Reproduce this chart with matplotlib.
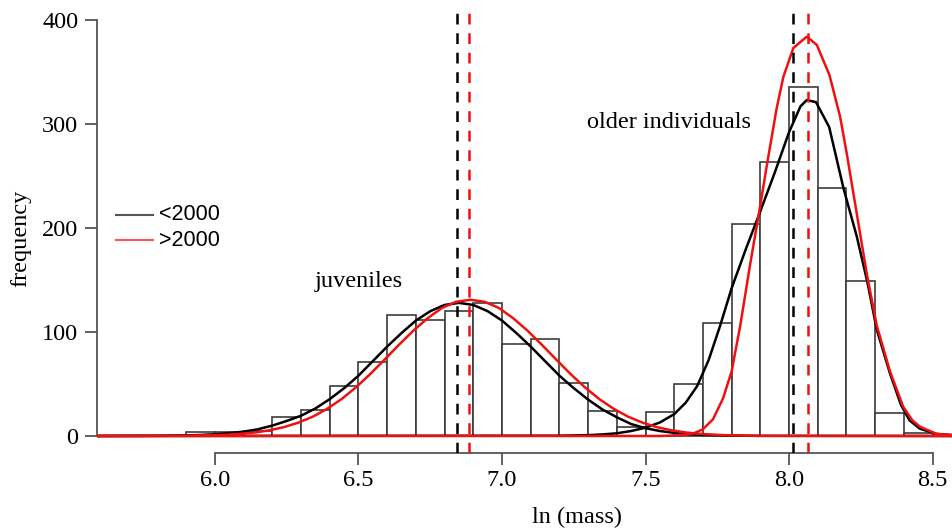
"""
Histogram of ln(mass) with fitted curves for juveniles and older individuals,
before and after 2000.
"""

import matplotlib

matplotlib.use("Agg")

import matplotlib.pyplot as plt
from matplotlib.lines import Line2D

# histogram: left bin edges (width 0.1) and counts
BIN_LEFT = [5.9, 6.0, 6.1, 6.2, 6.3, 6.4, 6.5, 6.6, 6.7, 6.8, 6.9, 7.0, 7.1,
            7.2, 7.3, 7.4, 7.5, 7.6, 7.7, 7.8, 7.9, 8.0, 8.1, 8.2, 8.3, 8.4]
BIN_COUNT = [4, 4, 5, 18, 25, 48, 71, 116, 112, 120, 128, 88, 93,
             51, 24, 9, 23, 50, 109, 204, 263, 336, 238, 149, 22, 3]
BIN_WIDTH = 0.1

# fitted curves
JUV_BLACK_X = [5.55, 5.80, 5.90, 5.95, 6.00, 6.05, 6.10, 6.15, 6.20, 6.25, 6.30,
               6.35, 6.40, 6.45, 6.50, 6.55, 6.60, 6.65, 6.70, 6.75, 6.80, 6.85,
               6.90, 6.95, 7.00, 7.05, 7.10, 7.15, 7.20, 7.25, 7.30, 7.35, 7.40,
               7.45, 7.50, 7.55, 7.60, 7.65, 7.70, 7.80, 7.90, 8.60]
JUV_BLACK_Y = [0, 0.2, 0.6, 1.0, 1.7, 2.8, 4.2, 6.5, 10, 14.5, 19.5,
               26.5, 35.5, 46, 58, 72, 86, 99, 111, 120, 126, 128,
               126, 120, 111, 99, 86, 72, 58, 46, 35, 25.5, 18,
               11.5, 7.5, 4.8, 3.0, 1.8, 1.1, 0.4, 0.1, 0]

JUV_RED_X = [5.55, 5.89, 5.99, 6.04, 6.09, 6.14, 6.19, 6.24, 6.29, 6.34, 6.39,
             6.44, 6.49, 6.54, 6.59, 6.64, 6.69, 6.74, 6.79, 6.84, 6.89, 6.94,
             6.99, 7.04, 7.09, 7.14, 7.19, 7.24, 7.29, 7.34, 7.39, 7.44, 7.49,
             7.54, 7.59, 7.64, 7.69, 7.74, 7.79, 7.89, 8.60]
JUV_RED_Y = [0, 0.2, 0.7, 1.2, 2.1, 3.4, 5.5, 8.5, 12.8, 18.5, 26,
             35.3, 46.5, 59.3, 73.2, 87.4, 101, 113, 123, 129, 131, 129,
             123, 113, 101, 87.4, 73.2, 59.3, 46.5, 35.3, 26, 18.5, 12.8,
             8.5, 5.5, 3.4, 2.1, 1.2, 0.7, 0.2, 0]

OLD_BLACK_X = [5.55, 7.20, 7.30, 7.35, 7.40, 7.45, 7.50, 7.55, 7.60, 7.64,
               7.68, 7.72, 7.76, 7.80, 7.85, 7.90, 7.95, 8.00, 8.04, 8.062,
               8.094, 8.140, 8.190, 8.236, 8.273, 8.306, 8.352, 8.390, 8.420,
               8.456, 8.514, 8.600]
OLD_BLACK_Y = [0, 0.3, 0.8, 1.5, 2.6, 4.8, 8, 13, 21, 32,
               48, 73, 106, 142, 180, 216, 253, 292, 317, 323,
               321, 297, 238, 192, 148, 102, 60, 30, 15,
               7, 2, 0.3]

OLD_RED_X = [5.55, 7.55, 7.60, 7.64, 7.67, 7.70, 7.735, 7.77, 7.80, 7.83,
             7.864, 7.897, 7.922, 7.957, 7.980, 8.015, 8.062, 8.097, 8.141,
             8.178, 8.201, 8.236, 8.271, 8.306, 8.352, 8.398, 8.430, 8.456,
             8.514, 8.600]
OLD_RED_Y = [0, 0, 0.5, 1.3, 2.8, 6.5, 16, 36, 62, 106,
             164, 217, 259, 315, 345, 373, 384, 376, 347,
             307, 272, 214, 156, 106, 62, 28, 15, 9,
             2, 0.2]

# group means (dashed lines)
MEAN_BLACK = [6.843, 8.013]
MEAN_RED = [6.886, 8.065]

X_TICKS = [6.0, 6.5, 7.0, 7.5, 8.0, 8.5]
Y_TICKS = [0, 100, 200, 300, 400]
LEGEND_LABELS = ["<2000", ">2000"]

W, H = 953, 530
AXIS_GREY = "#555555"
RED = "#f01010"
SERIF = "Liberation Serif"
SANS = "Liberation Sans"
TEXT_SIZE = 17.5
LINE_W = 1.8
DASH = (0, (4.3, 3.5))


def main() -> None:
    fig = plt.figure(figsize=(W / 100, H / 100), dpi=100)
    ax = fig.add_axes([97 / W, (H - 453) / H, 856 / W, 445 / H])

    ax.bar(BIN_LEFT, BIN_COUNT, width=BIN_WIDTH, align="edge",
           facecolor="white", edgecolor="#3c3c3c", linewidth=1.2, zorder=1)

    ax.plot(JUV_BLACK_X, JUV_BLACK_Y, color="black", lw=LINE_W, zorder=2)
    ax.plot(OLD_BLACK_X, OLD_BLACK_Y, color="black", lw=LINE_W, zorder=2)
    ax.plot(JUV_RED_X, JUV_RED_Y, color=RED, lw=LINE_W, zorder=3)
    ax.plot(OLD_RED_X, OLD_RED_Y, color=RED, lw=LINE_W, zorder=3)

    for x in MEAN_BLACK:
        ax.axvline(x, color="black", lw=LINE_W, linestyle=DASH, zorder=4)
    for x in MEAN_RED:
        ax.axvline(x, color=RED, lw=LINE_W, linestyle=DASH, zorder=4)

    ax.set_xlim(5.5889, 8.5714)
    ax.set_ylim(-16.35, 411.5)

    for side in ("top", "right"):
        ax.spines[side].set_visible(False)
    for side in ("left", "bottom"):
        ax.spines[side].set_color(AXIS_GREY)
        ax.spines[side].set_linewidth(1.3)
    ax.spines["left"].set_bounds(0, 400)
    ax.spines["bottom"].set_bounds(6.0, 8.5)

    ax.set_xticks(X_TICKS)
    ax.set_xticklabels([f"{t:.1f}" for t in X_TICKS])
    ax.set_yticks(Y_TICKS)
    ax.set_yticklabels([str(t) for t in Y_TICKS])
    ax.tick_params(axis="both", colors=AXIS_GREY, labelcolor="black",
                   width=1.3, length=8.5, labelsize=TEXT_SIZE)
    ax.tick_params(axis="x", pad=4)
    ax.tick_params(axis="y", pad=5)
    for label in ax.get_xticklabels() + ax.get_yticklabels():
        label.set_fontfamily(SERIF)

    ax.text(6.348, 143.3, "juveniles", family=SERIF, fontsize=TEXT_SIZE,
            va="baseline", ha="left")
    ax.text(7.296, 296, "older individuals", family=SERIF, fontsize=TEXT_SIZE,
            va="baseline", ha="left")

    fig.text(21 / W, 1 - 238 / H, "frequency", family=SERIF, fontsize=TEXT_SIZE,
             rotation=90, ha="center", va="center")
    fig.text(577 / W, 1 - 517 / H, "ln (mass)", family=SERIF, fontsize=TEXT_SIZE,
             ha="center", va="center")

    # legend
    for label, colour, y in zip(LEGEND_LABELS, ["#555555", "#ff5555"], [215, 240]):
        fig.add_artist(Line2D([116 / W, 153 / W], [1 - y / H, 1 - y / H],
                              color=colour, lw=1.5))
        fig.text(159 / W, 1 - y / H, label, family=SANS, fontsize=15.5,
                 ha="left", va="center")

    fig.savefig("out.png", dpi=100)
    plt.close(fig)


if __name__ == "__main__":
    main()
